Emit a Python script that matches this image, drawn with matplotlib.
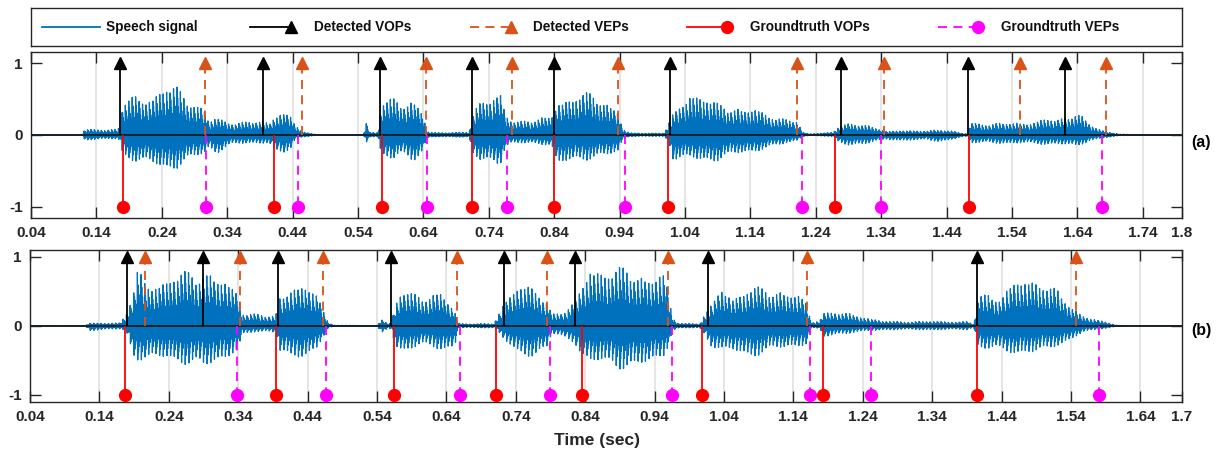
import numpy as np
import matplotlib.pyplot as plt
from matplotlib.lines import Line2D

plt.rcParams['font.family'] = ['Liberation Sans', 'DejaVu Sans']
plt.rcParams['font.weight'] = 'bold'

# envelope of the speech signal (a): time, upper peak, lower peak
ta = [0.04, 0.118, 0.122, 0.17, 0.176, 0.18, 0.20, 0.227, 0.248, 0.263, 0.278, 0.298, 0.305, 0.312,
      0.324, 0.345, 0.37, 0.40, 0.405, 0.412, 0.425, 0.437, 0.444, 0.455, 0.465, 0.48, 0.548, 0.553,
      0.558, 0.57, 0.576, 0.593, 0.604, 0.624, 0.64, 0.645, 0.65, 0.71, 0.715, 0.727, 0.757, 0.765,
      0.772, 0.80, 0.833, 0.838, 0.845, 0.879, 0.91, 0.93, 0.937, 0.945, 0.955, 1.008, 1.014, 1.022,
      1.048, 1.063, 1.088, 1.113, 1.155, 1.185, 1.211, 1.22, 1.23, 1.266, 1.275, 1.292, 1.308, 1.333,
      1.348, 1.37, 1.39, 1.41, 1.43, 1.45, 1.465, 1.472, 1.476, 1.522, 1.572, 1.613, 1.639, 1.659,
      1.685, 1.705, 1.73, 1.8]
ua = [0.005, 0.005, 0.08, 0.09, 0.12, 0.50, 0.55, 0.62, 0.72, 0.70, 0.60, 0.42, 0.40, 0.20,
      0.25, 0.20, 0.20, 0.19, 0.20, 0.33, 0.35, 0.28, 0.15, 0.05, 0.03, 0.005, 0.005, 0.22,
      0.04, 0.03, 0.50, 0.58, 0.53, 0.50, 0.30, 0.06, 0.04, 0.04, 0.30, 0.56, 0.62, 0.30,
      0.22, 0.23, 0.26, 0.30, 0.51, 0.63, 0.55, 0.45, 0.40, 0.08, 0.03, 0.03, 0.15, 0.30,
      0.67, 0.60, 0.46, 0.43, 0.35, 0.27, 0.20, 0.04, 0.02, 0.04, 0.12, 0.18, 0.18, 0.10,
      0.05, 0.08, 0.06, 0.06, 0.09, 0.06, 0.02, 0.02, 0.19, 0.17, 0.20, 0.25, 0.35, 0.15,
      0.05, 0.015, 0.005, 0.003]
la = [-0.005, -0.005, -0.07, -0.06, -0.08, -0.30, -0.38, -0.45, -0.50, -0.48, -0.40, -0.30, -0.28, -0.18,
      -0.27, -0.15, -0.12, -0.12, -0.14, -0.27, -0.28, -0.20, -0.06, -0.03, -0.02, -0.005, -0.005, -0.12,
      -0.03, -0.02, -0.30, -0.37, -0.30, -0.39, -0.22, -0.05, -0.03, -0.03, -0.28, -0.40, -0.44, -0.18,
      -0.12, -0.13, -0.14, -0.20, -0.45, -0.37, -0.32, -0.30, -0.28, -0.06, -0.02, -0.02, -0.08, -0.35,
      -0.36, -0.39, -0.37, -0.30, -0.22, -0.15, -0.08, -0.02, -0.01, -0.02, -0.10, -0.16, -0.16, -0.08,
      -0.06, -0.10, -0.07, -0.06, -0.12, -0.06, -0.02, -0.02, -0.12, -0.12, -0.13, -0.14, -0.17, -0.08,
      -0.04, -0.01, -0.005, -0.003]

# envelope of the speech signal (b)
tb = [0.04, 0.12, 0.126, 0.17, 0.178, 0.189, 0.194, 0.213, 0.237, 0.271, 0.289, 0.309, 0.333, 0.341,
      0.345, 0.362, 0.381, 0.394, 0.40, 0.415, 0.429, 0.453, 0.462, 0.47, 0.48, 0.54, 0.547, 0.556,
      0.561, 0.566, 0.577, 0.602, 0.631, 0.652, 0.657, 0.708, 0.712, 0.722, 0.741, 0.765, 0.785, 0.792,
      0.813, 0.825, 0.835, 0.847, 0.861, 0.885, 0.909, 0.933, 0.953, 0.96, 0.965, 0.972, 1.005, 1.01,
      1.022, 1.037, 1.053, 1.077, 1.102, 1.125, 1.15, 1.159, 1.166, 1.178, 1.183, 1.207, 1.236, 1.25,
      1.27, 1.39, 1.40, 1.406, 1.438, 1.462, 1.486, 1.505, 1.519, 1.539, 1.558, 1.582, 1.606, 1.62, 1.7]
ub = [0.003, 0.005, 0.04, 0.05, 0.19, 0.50, 0.80, 0.70, 0.72, 0.86, 0.88, 0.75, 0.58, 0.55,
      0.22, 0.20, 0.15, 0.15, 0.44, 0.68, 0.62, 0.52, 0.25, 0.05, 0.01, 0.005, 0.12, 0.03,
      0.05, 0.30, 0.56, 0.50, 0.50, 0.25, 0.04, 0.03, 0.12, 0.35, 0.70, 0.55, 0.40, 0.20,
      0.25, 0.35, 0.60, 0.95, 0.92, 0.87, 0.85, 0.80, 0.80, 0.50, 0.15, 0.05, 0.03, 0.15,
      0.30, 0.65, 0.46, 0.57, 0.60, 0.55, 0.45, 0.35, 0.05, 0.10, 0.22, 0.20, 0.17, 0.12,
      0.07, 0.07, 0.02, 0.49, 0.50, 0.68, 0.72, 0.72, 0.55, 0.30, 0.17, 0.08, 0.01, 0.003, 0.003]
lb = [-0.003, -0.005, -0.07, -0.05, -0.08, -0.45, -0.50, -0.55, -0.50, -0.60, -0.67, -0.55, -0.42, -0.40,
      -0.15, -0.10, -0.08, -0.10, -0.40, -0.55, -0.50, -0.35, -0.18, -0.03, -0.01, -0.005, -0.13, -0.03,
      -0.05, -0.30, -0.40, -0.32, -0.35, -0.35, -0.03, -0.03, -0.05, -0.20, -0.45, -0.45, -0.35, -0.12,
      -0.20, -0.25, -0.45, -0.60, -0.58, -0.62, -0.66, -0.60, -0.45, -0.30, -0.10, -0.04, -0.03, -0.10,
      -0.30, -0.40, -0.40, -0.47, -0.40, -0.35, -0.30, -0.28, -0.03, -0.05, -0.18, -0.12, -0.10, -0.08,
      -0.06, -0.06, -0.02, -0.33, -0.40, -0.42, -0.42, -0.40, -0.30, -0.22, -0.10, -0.05, -0.01, -0.003, -0.003]

# event positions (sec)
det_vop_a = [0.176, 0.395, 0.574, 0.715, 0.839, 1.017, 1.279, 1.473, 1.621]
det_vep_a = [0.306, 0.455, 0.644, 0.776, 0.938, 1.212, 1.344, 1.552, 1.684]
gt_vop_a = [0.181, 0.411, 0.576, 0.715, 0.839, 1.014, 1.270, 1.475]
gt_vep_a = [0.308, 0.449, 0.645, 0.768, 0.949, 1.219, 1.339, 1.678]

det_vop_b = [0.180, 0.290, 0.397, 0.560, 0.723, 0.826, 1.017, 1.404]
det_vep_b = [0.206, 0.342, 0.462, 0.655, 0.785, 0.959, 1.159, 1.547]
gt_vop_b = [0.177, 0.395, 0.564, 0.712, 0.835, 1.008, 1.182, 1.404]
gt_vep_b = [0.339, 0.467, 0.660, 0.790, 0.965, 1.164, 1.252, 1.581]

ticks_a = [0.04, 0.14, 0.24, 0.34, 0.44, 0.54, 0.64, 0.74, 0.84, 0.94, 1.04, 1.14, 1.24, 1.34, 1.44, 1.54, 1.64, 1.74, 1.8]
ticks_b = [0.04, 0.14, 0.24, 0.34, 0.44, 0.54, 0.64, 0.74, 0.84, 0.94, 1.04, 1.14, 1.24, 1.34, 1.44, 1.54, 1.64, 1.7]

BLUE = '#0072BD'
ORANGE = '#D95319'
W, H = 1218, 454


def speech(tk, up, lo, t0, t1, fs=16000, f0=190.0):
    t = np.arange(t0, t1, 1 / fs)
    eu = np.interp(t, tk, up)
    el = np.interp(t, tk, lo)
    ph = (t * f0) % 1.0
    p = np.exp(-1.3 * ph) * np.cos(2 * np.pi * 5 * ph)
    var = 0.85 + 0.15 * np.cos(2 * np.pi * 23 * t) * np.cos(2 * np.pi * 7.3 * t)
    s = np.where(p >= 0, p * eu, (p / 0.88) * (-el)) * var
    return t, s


def panel(rect, tk, up, lo, xmax, ylim, ticks, vop, vep, gvop, gvep, tag, tag_y):
    ax = fig.add_axes(rect)
    t, s = speech(tk, up, lo, 0.04, xmax)
    for x in ticks[1:-1]:
        ax.axvline(x, color='#e3e3e3', lw=1.3, zorder=0)
    ax.plot(t, s, color=BLUE, lw=0.9, zorder=2)
    ax.axhline(0, color='#1a1a1a', lw=1.3, zorder=3)
    ax.vlines(vop, 0, 1, color='black', lw=1.3, zorder=4)
    ax.plot(vop, [1] * len(vop), '^', color='black', ms=9, zorder=5)
    ax.vlines(vep, 0, 1, color=ORANGE, lw=1.3, linestyles=(0, (5, 3.5)), zorder=4)
    ax.plot(vep, [1] * len(vep), '^', color=ORANGE, ms=9, zorder=5)
    ax.vlines(gvop, 0, -1, color='red', lw=1.3, zorder=4)
    ax.plot(gvop, [-1] * len(gvop), 'o', color='red', ms=8.5, zorder=5)
    ax.vlines(gvep, 0, -1, color='magenta', lw=1.3, linestyles=(0, (5, 3.5)), zorder=4)
    ax.plot(gvep, [-1] * len(gvep), 'o', color='magenta', ms=8.5, zorder=5)
    ax.set_xlim(0.04, xmax)
    ax.set_ylim(*ylim)
    ax.set_xticks(ticks)
    ax.set_xticklabels(['%g' % v for v in ticks])
    ax.set_yticks([-1, 0, 1])
    ax.set_yticklabels(['-1', '0', '1'])
    ax.tick_params(direction='in', length=8, width=1, color='#262626', top=True, right=True,
                   labelsize=11, labelcolor='#262626', pad=6)
    for sp in ax.spines.values():
        sp.set_color('#262626')
        sp.set_linewidth(1)
    fig.text(1201 / W, 1 - tag_y / H, tag, ha='center', va='center', fontsize=11.5, fontweight='bold')
    return ax


fig = plt.figure(figsize=(W / 100, H / 100), dpi=100)

panel([31 / W, 1 - 218 / H, 1151 / W, 166 / H], ta, ua, la, 1.8, (-1.155, 1.155), ticks_a,
      det_vop_a, det_vep_a, gt_vop_a, gt_vep_a, '(a)', 143)
panel([30 / W, 1 - 401.7 / H, 1152 / W, 151.7 / H], tb, ub, lb, 1.7, (-1.1, 1.1), ticks_b,
      det_vop_b, det_vep_b, gt_vop_b, gt_vep_b, '(b)', 330)

fig.text(597 / W, 1 - 440 / H, 'Time (sec)', ha='center', va='center', fontsize=12.5, fontweight='bold',
         color='#262626')

# legend box, drawn in pixel units
lg = fig.add_axes([31 / W, 1 - 46 / H, 1151 / W, 38 / H])
lg.set_xlim(31, 1182)
lg.set_ylim(46, 8)
lg.set_xticks([])
lg.set_yticks([])
for sp in lg.spines.values():
    sp.set_color('#262626')
    sp.set_linewidth(1)
yc = 27
entries = [
    (42, 100, None, BLUE, '-', 106, 'Speech signal'),
    (250, 291, '^', 'black', '-', 314, 'Detected VOPs'),
    (470, 511, '^', ORANGE, (0, (5, 3.5)), 533, 'Detected VEPs'),
    (687, 727, 'o', 'red', '-', 750, 'Groundtruth VOPs'),
    (938, 978, 'o', 'magenta', (0, (5, 3.5)), 1001, 'Groundtruth VEPs'),
]
for x0, x1, mk, c, ls, xt, label in entries:
    lg.add_line(Line2D([x0, x1], [yc, yc], color=c, ls=ls, lw=1.3))
    if mk:
        lg.plot([x1], [yc], mk, color=c, ms=8.5 if mk == 'o' else 9)
    lg.text(xt, yc, label, ha='left', va='center', fontsize=9.8, fontweight='bold', color='#111111')

fig.savefig('out.png', dpi=100)
